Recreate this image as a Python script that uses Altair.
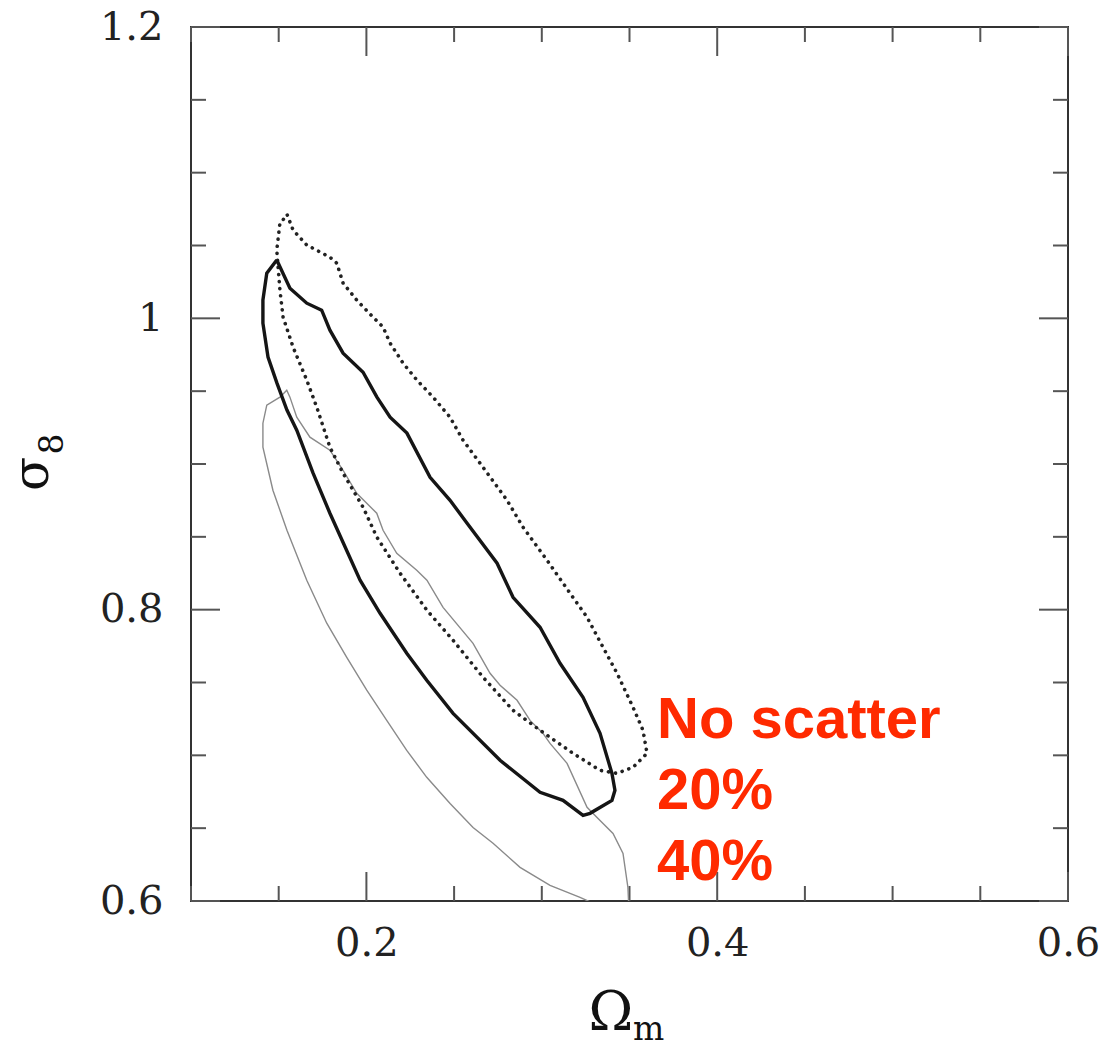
import altair as alt
import pandas as pd

# Confidence contours in the (Omega_m, sigma_8) plane
solid_x = [0.1489, 0.1564, 0.1660, 0.1745, 0.1792, 0.1867, 0.1981, 0.2060, 0.2135, 0.2231,
           0.2363, 0.2477, 0.2574, 0.2745, 0.2836, 0.2990, 0.3104, 0.3235, 0.3332, 0.3400,
           0.3417, 0.3400, 0.3275, 0.3235, 0.3121, 0.2990, 0.2762, 0.2494, 0.2344, 0.2230,
           0.2078, 0.1964, 0.1792, 0.1696, 0.1603, 0.1547, 0.1490, 0.1439, 0.1410, 0.1410,
           0.1432, 0.1489]
solid_y = [1.0400, 1.0207, 1.0104, 1.0056, 0.9919, 0.9761, 0.9630, 0.9459, 0.9321, 0.9212,
           0.8909, 0.8751, 0.8593, 0.8319, 0.8085, 0.7879, 0.7632, 0.7398, 0.7151, 0.6876,
           0.6760, 0.6691, 0.6602, 0.6588, 0.6691, 0.6746, 0.6966, 0.7288, 0.7515, 0.7701,
           0.7975, 0.8202, 0.8662, 0.8937, 0.9232, 0.9370, 0.9555, 0.9734, 0.9967, 1.0125,
           1.0310, 1.0400]

dotted_x = [0.1549, 0.1582, 0.1660, 0.1792, 0.1831, 0.1867, 0.1945, 0.2038, 0.2095, 0.2135,
            0.2209, 0.2288, 0.2380, 0.2477, 0.2551, 0.2648, 0.2802, 0.2893, 0.3030, 0.3161,
            0.3258, 0.3349, 0.3429, 0.3520, 0.3577, 0.3600, 0.3520, 0.3429, 0.3332, 0.3178,
            0.2990, 0.2836, 0.2665, 0.2494, 0.2345, 0.2192, 0.2060, 0.1981, 0.1867, 0.1792,
            0.1717, 0.1660, 0.1582, 0.1525, 0.1507, 0.1489, 0.1507, 0.1549]
dotted_y = [1.0709, 1.0606, 1.0503, 1.0420, 1.0379, 1.0242, 1.0125, 1.0008, 0.9940, 0.9830,
            0.9692, 0.9576, 0.9459, 0.9321, 0.9163, 0.9005, 0.8751, 0.8566, 0.8339, 0.8113,
            0.7948, 0.7742, 0.7563, 0.7330, 0.7172, 0.7014, 0.6918, 0.6876, 0.6897, 0.7014,
            0.7172, 0.7309, 0.7536, 0.7790, 0.7996, 0.8250, 0.8497, 0.8703, 0.8937, 0.9115,
            0.9390, 0.9576, 0.9802, 1.0008, 1.0194, 1.0468, 1.0654, 1.0709]

gray_x = [0.3497, 0.3491, 0.3463, 0.3406, 0.3315, 0.3258, 0.3144, 0.3047, 0.3007, 0.2933,
          0.2859, 0.2762, 0.2705, 0.2608, 0.2437, 0.2345, 0.2287, 0.2173, 0.2095, 0.2059,
          0.1945, 0.1867, 0.1792, 0.1678, 0.1603, 0.1564, 0.1546, 0.1507, 0.1432, 0.1410,
          0.1410, 0.1467, 0.1547, 0.1660, 0.1774, 0.1888, 0.2002, 0.2116, 0.2230, 0.2344,
          0.2477, 0.2608, 0.2722, 0.2876, 0.3047, 0.3218, 0.3332]
gray_y = [0.5935, 0.6093, 0.6327, 0.6464, 0.6574, 0.6643, 0.6945, 0.7082, 0.7151, 0.7240,
          0.7378, 0.7481, 0.7563, 0.7769, 0.8016, 0.8202, 0.8271, 0.8387, 0.8545, 0.8662,
          0.8799, 0.8957, 0.9095, 0.9184, 0.9321, 0.9459, 0.9507, 0.9459, 0.9404, 0.9280,
          0.9115, 0.8820, 0.8545, 0.8202, 0.7907, 0.7673, 0.7447, 0.7240, 0.7034, 0.6849,
          0.6670, 0.6505, 0.6396, 0.6231, 0.6107, 0.6025, 0.5963]

labels = ["No scatter", "20%", "40%"]

x_major = [0.2, 0.4, 0.6]
x_minor = [0.1, 0.15, 0.25, 0.3, 0.35, 0.45, 0.5, 0.55]
y_major = [0.6, 0.8, 1.0, 1.2]
y_minor = [0.65, 0.7, 0.75, 0.85, 0.9, 0.95, 1.05, 1.1, 1.15]

W, H = 877, 874
SERIF = "DejaVu Serif"

xs = alt.Scale(domain=[0.1, 0.6], nice=False, zero=False)
ys = alt.Scale(domain=[0.6, 1.2], nice=False, zero=False)

# one shared axis definition per channel, used by every layer so they merge cleanly
X_AXIS = alt.Axis(values=x_major, format=".1~f", ticks=False, tickSize=0, domain=False,
                  grid=False, labelFlush=False, labelOverlap=False, labelPadding=22,
                  labelFont=SERIF, labelFontSize=40, labelColor="#222", title=None)
Y_AXIS = alt.Axis(values=y_major, format=".1~f", ticks=False, tickSize=0, domain=False,
                  grid=False, labelFlush=False, labelOverlap=False, labelPadding=28,
                  labelFont=SERIF, labelFontSize=40, labelColor="#222", title=None)


def X(field):
    return alt.X(field, scale=xs, axis=X_AXIS, title=None)


def Y(field):
    return alt.Y(field, scale=ys, axis=Y_AXIS, title=None)


def contour(xv, yv):
    return pd.DataFrame({"om": xv, "s8": yv, "i": range(len(xv))})


def line_layer(df, **style):
    return alt.Chart(df).mark_line(clip=True, **style).encode(
        x=X("om:Q"), y=Y("s8:Q"), order="i:Q",
    )


TICK = dict(color="#555", strokeWidth=2)


def x_ticks(vals, length):
    d = pd.DataFrame({"om": vals})
    bottom = alt.Chart(d).mark_rule(**TICK).encode(
        x=X("om:Q"), y=alt.value(H), y2=alt.value(H - length))
    top = alt.Chart(d).mark_rule(**TICK).encode(
        x=X("om:Q"), y=alt.value(0), y2=alt.value(length))
    return [bottom, top]


def y_ticks(vals, length):
    d = pd.DataFrame({"s8": vals})
    left = alt.Chart(d).mark_rule(**TICK).encode(
        y=Y("s8:Q"), x=alt.value(0), x2=alt.value(length))
    right = alt.Chart(d).mark_rule(**TICK).encode(
        y=Y("s8:Q"), x=alt.value(W), x2=alt.value(W - length))
    return [left, right]


ticks = x_ticks(x_major, 29) + x_ticks(x_minor, 15) + y_ticks(y_major, 29) + y_ticks(y_minor, 15)

gray = line_layer(contour(gray_x, gray_y), color="#8a8a8a", strokeWidth=1.4)
dotted = line_layer(contour(dotted_x, dotted_y), color="#222", strokeWidth=3.6,
                    strokeDash=[0.1, 7], strokeCap="round")
solid = line_layer(contour(solid_x, solid_y), color="#151515", strokeWidth=3.4)

one = pd.DataFrame({"k": [0]})


def txt(text, x, y, **kw):
    return alt.Chart(one).mark_text(text=text, **kw).encode(x=alt.value(x), y=alt.value(y))


titles = [
    txt("Ω", 420, 1003, font=SERIF, fontSize=54, align="center", baseline="alphabetic", color="#111"),
    txt("m", 442, 1013, font=SERIF, fontSize=33, align="left", baseline="alphabetic", color="#111"),
    txt("σ", -143, 447, font=SERIF, fontSize=50, align="center", baseline="alphabetic",
        angle=270, color="#111"),
    txt("8", -128, 417, font=SERIF, fontSize=33, align="center", baseline="alphabetic",
        angle=270, color="#111"),
]

legend_text = [
    txt(lab, 466, 711 + 71 * k, font="Liberation Sans", fontSize=58, fontWeight="bold",
        align="left", baseline="alphabetic", color="#ff2a00")
    for k, lab in enumerate(labels)
]

chart = alt.layer(*ticks, gray, dotted, solid, *titles, *legend_text).properties(
    width=W, height=H,
    autosize=alt.AutoSizeParams(type="none"),
    padding={"left": 191, "top": 27, "right": 38, "bottom": 147},
    background="white",
).configure_view(stroke="#333", strokeWidth=2)

chart.save("out.html", embed_options={"renderer": "svg", "actions": False})
